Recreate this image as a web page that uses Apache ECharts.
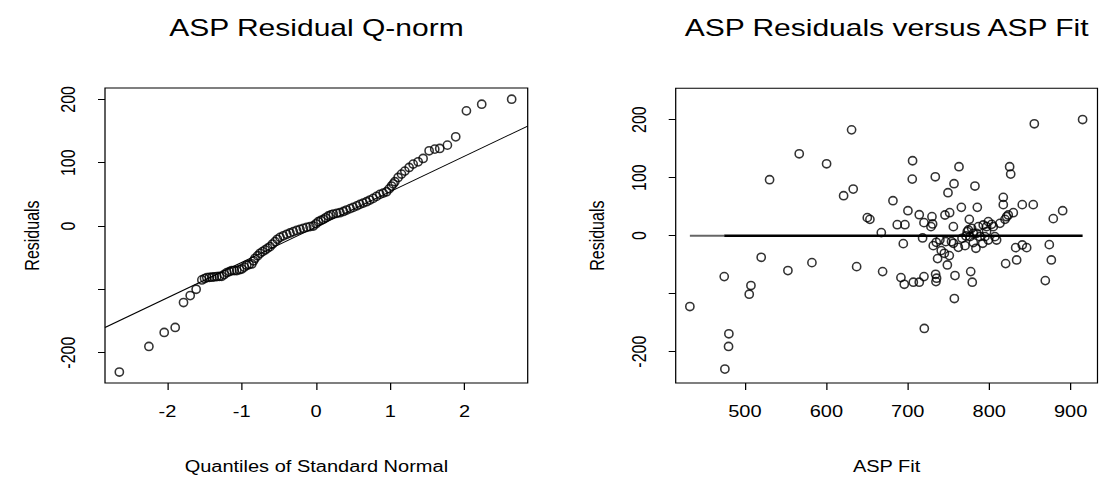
<!DOCTYPE html>
<html>
<head>
<meta charset="utf-8">
<script src="https://cdn.jsdelivr.net/npm/echarts@6.0.0/dist/echarts.min.js"></script>
<style>
  html, body { margin: 0; padding: 0; background: #fff; }
  #wrap { width: 1099px; height: 483px; overflow: hidden; background: #fff; }
  /* the original text is drawn wide, so the whole chart is stretched horizontally */
  #chart { height: 483px; transform-origin: 0 0; }
</style>
</head>
<body>
<div id="wrap"><div id="chart"></div></div>
<script>
// horizontal stretch of the reference picture
const S = 1.25;

// left panel: normal quantiles vs sorted residuals
const qqX = [
  -2.647, -2.249, -2.043, -1.895, -1.783, -1.693, -1.613, -1.536, -1.50, -1.469,
  -1.435, -1.402, -1.37, -1.335, -1.30, -1.268, -1.235, -1.200, -1.165, -1.133,
  -1.10, -1.066, -1.03, -0.999, -0.965, -0.932, -0.90, -0.864, -0.84, -0.820,
  -0.785, -0.753, -0.72, -0.685, -0.65, -0.618, -0.585, -0.551, -0.52, -0.484,
  -0.44, -0.394, -0.35, -0.305, -0.26, -0.215, -0.17, -0.125, -0.08, -0.036,
  0.0, 0.031, 0.065, 0.099, 0.13, 0.166, 0.20, 0.233, 0.28, 0.323,
  0.37, 0.412, 0.46, 0.502, 0.55, 0.591, 0.635, 0.681, 0.725, 0.770,
  0.815, 0.860, 0.905, 0.950, 0.985, 1.017, 1.04, 1.062, 1.106, 1.151,
  1.196, 1.254, 1.308, 1.375, 1.442, 1.523, 1.599, 1.666, 1.769, 1.881,
  2.025, 2.231, 2.634
];
const qqY = [
  -230.7, -190.3, -168.2, -160.3, -120.9, -109.9, -99.9, -85.2, -83.0, -81.5,
  -81.2, -80.9, -80.4, -79.9, -79.6, -79.4, -76.5, -73.6, -72, -70.4,
  -70.4, -70.4, -69, -67.8, -65, -62.0, -61, -59.9, -55, -51.0,
  -47, -43.1, -40.5, -37.8, -35, -32.6, -28.5, -24.7, -21, -17.9,
  -15.5, -13.1, -11, -8.9, -7, -5.3, -3.7, -2.1, -1, 0,
  3.5, 6.8, 8.7, 10.5, 13, 15.8, 17.5, 18.9, 20, 21.0,
  23, 25.2, 27.4, 29.4, 31.8, 34.2, 36.2, 38.4, 41, 43.6,
  46.8, 49.9, 52, 54.1, 58.6, 63.1, 66.5, 69.9, 76.7, 82.0,
  86.7, 92.5, 97.8, 101.4, 106.7, 118.8, 121.4, 122.5, 127.7, 140.9,
  181.9, 192.4, 200.3
];
// reference line end points
const qqLineX = [-2.84, 2.85];
const qqLineY = [-160.3, 157.8];

// right panel: fitted values vs residuals
const fitX = [
  432.4, 474.6, 480.3, 479.9, 475.4, 507.4, 505.3, 530.3, 520.0, 552.8,
  566.7, 582.3, 600.3, 631.0, 633.0, 621.2, 637.2, 650.3, 653.5, 667.5,
  669.1, 681.8, 687.1, 696.5, 694.5, 700.2, 691.6, 695.7, 706.8, 714.1,
  719.9, 705.9, 705.5, 714.1, 719.9, 718.2, 720.3, 729.7, 730.5, 728.5,
  733.8, 731.3, 735.0, 736.6, 734.2, 735.4, 734.6, 741.1, 744.9, 748.6,
  751.0, 745.7, 751.4, 756.8, 749.4, 756.0, 756.0, 758.0, 757.2, 762.9,
  765.8, 762.1, 770.3, 775.6, 774.4, 771.5, 776.4, 777.3, 779.2, 782.5,
  785.4, 783.7, 780.5, 786.7, 792.7, 796.8, 798.9, 792.0, 798.9, 803.0,
  809.1, 813.2, 817.3, 817.3, 825.1, 826.4, 819.4, 821.4, 823.4, 829.6,
  820.2, 832.5, 833.7, 840.6, 846.0, 840.6, 854.1, 855.4, 873.8, 876.3,
  868.9, 878.7, 890.2, 914.7,
  773.0, 778.4, 780.5, 788.6, 794.8, 796.8, 784.6, 805.0, 766.6, 739.4,
  753.7, 746.7, 807.0
];
const residY = [
  -122.2, -70.6, -169.2, -191.0, -230.0, -86.0, -101.0, 96.4, -37.3, -60.2,
  141.1, -46.5, 123.9, 182.4, 80.3, 68.8, -53.4, 31.0, 28.1, 5.2,
  -62.0, 60.2, 18.9, 18.9, -13.8, 43.0, -72.3, -83.8, -80.3, -80.3,
  -70.6, 129.1, 97.5, 36.1, 22.4, -4.0, -160.0, 32.7, 20.1, 15.5,
  101.5, -17.2, -11.5, -39.6, -66.6, -73.4, -79.2, -25.8, -30.4, -50.5,
  -34.4, 35.6, 39.6, 89.5, 74.0, 15.5, -13.2, -68.8, -108.4, 118.8,
  48.8, -20.1, -17.2, 28.1, 9.8, -0.6, -1.7, -62.0, -80.3, 85.5,
  48.8, -21.8, -12.0, 15.5, 18.4, 6.9, 24.1, -13.2, -7.5, 19.5,
  -7.5, 21.2, 66.0, 53.4, 118.8, 106.1, 28.1, 32.7, 35.6, 39.6,
  -48.2, -20.7, -41.9, -16.1, -20.7, 53.4, 53.4, 192.8, -15.5, -41.9,
  -77.5, 29.3, 43.0, 200.2,
  6.9, 12.6, 4.0, -1.7, -1.7, 15.5, 4.0, 15.5, -4.6, -7.5,
  -10.3, -10.3, -1.7
];
// zero line: light start segment, then the darker part
const zeroGreyX = [432.4, 474.6];
const zeroBlackX = [474.6, 914.7];

// ticks and labels
const qqTicksX = [-2, -1, 0, 1, 2];
const fitTicksX = [500, 600, 700, 800, 900];
const residTicks = [-200, -100, 0, 100, 200];
const residLabels = [-200, 0, 100, 200];

const FONT = '"Liberation Sans", Arial, Helvetica, sans-serif';
const W = 1099 / S;

const el = document.getElementById('chart');
el.style.width = W + 'px';
el.style.transform = 'scaleX(' + S + ')';
const chart = echarts.init(el, null, { renderer: 'svg', width: W, height: 483 });

// ellipse that turns round after the stretch
const ring = 'path://M0,50 A50,50 0 1 1 100,50 A50,50 0 1 1 0,50 Z';
const ringSize = [8.2 / S, 8.2];
const ringStyle = { color: 'rgba(0,0,0,0)', borderColor: '#000', borderWidth: 1.4 };

const txt = { color: '#000', fontFamily: FONT, fontSize: 16 };

function xAxisFor(idx, min, max, ticks, name) {
  return {
    gridIndex: idx, type: 'value', min: min, max: max,
    axisLine: { show: false, onZero: false }, splitLine: { show: false },
    axisTick: { show: true, length: 7, customValues: ticks, lineStyle: { color: '#000', width: 1 } },
    axisLabel: Object.assign({ customValues: ticks, margin: 29, verticalAlign: 'middle' }, txt),
    name: name, nameLocation: 'middle', nameGap: 84,
    nameTextStyle: Object.assign({ verticalAlign: 'middle' }, txt)
  };
}
function yAxisFor(idx, min, max, labelGap, nameGap) {
  return {
    gridIndex: idx, type: 'value', min: min, max: max,
    axisLine: { show: false, onZero: false }, splitLine: { show: false },
    axisTick: { show: true, length: 7 / S, customValues: residTicks, lineStyle: { color: '#000', width: 1 } },
    axisLabel: Object.assign({ customValues: residLabels, rotate: 90, margin: labelGap / S,
      align: 'center', verticalAlign: 'middle' }, txt),
    name: 'Residuals', nameLocation: 'middle', nameRotate: 90, nameGap: nameGap / S,
    nameTextStyle: Object.assign({ align: 'center', verticalAlign: 'middle' }, txt)
  };
}

const option = {
  animation: false,
  backgroundColor: '#fff',
  title: [
    { text: 'ASP Residual Q-norm', left: 316.4 / S, top: 28, textAlign: 'center', textVerticalAlign: 'middle',
      padding: 0, textStyle: { color: '#000', fontFamily: FONT, fontSize: 24, fontWeight: 'normal' } },
    { text: 'ASP Residuals versus ASP Fit', left: 886.6 / S, top: 28, textAlign: 'center', textVerticalAlign: 'middle',
      padding: 0, textStyle: { color: '#000', fontFamily: FONT, fontSize: 24, fontWeight: 'normal' } }
  ],
  grid: [
    { left: 105 / S, top: 88, width: (527.7 - 105) / S, height: 295, show: true,
      borderColor: '#000', borderWidth: 1, backgroundColor: 'transparent' },
    { left: 675.7 / S, top: 88.3, width: (1097.5 - 675.7) / S, height: 294.7, show: true,
      borderColor: '#000', borderWidth: 1, backgroundColor: 'transparent' }
  ],
  xAxis: [
    xAxisFor(0, -2.84, 2.85, qqTicksX, 'Quantiles of Standard Normal'),
    xAxisFor(1, 415, 933, fitTicksX, 'ASP Fit')
  ],
  yAxis: [
    yAxisFor(0, -248, 218, 37, 73),
    yAxisFor(1, -254, 254, 36, 78.7)
  ],
  series: [
    {
      type: 'scatter', xAxisIndex: 0, yAxisIndex: 0, silent: true,
      symbol: ring, symbolSize: ringSize, itemStyle: ringStyle,
      data: qqX.map((x, i) => [x, qqY[i]])
    },
    {
      type: 'line', xAxisIndex: 0, yAxisIndex: 0, silent: true, showSymbol: false,
      lineStyle: { color: '#000', width: 1 },
      data: qqLineX.map((x, i) => [x, qqLineY[i]])
    },
    {
      type: 'line', xAxisIndex: 1, yAxisIndex: 1, silent: true, showSymbol: false,
      lineStyle: { color: '#666', width: 2 },
      data: zeroGreyX.map(x => [x, 0])
    },
    {
      type: 'line', xAxisIndex: 1, yAxisIndex: 1, silent: true, showSymbol: false,
      lineStyle: { color: '#000', width: 2.5 },
      data: zeroBlackX.map(x => [x, 0])
    },
    {
      type: 'scatter', xAxisIndex: 1, yAxisIndex: 1, silent: true,
      symbol: ring, symbolSize: ringSize, itemStyle: ringStyle,
      data: fitX.map((x, i) => [x, residY[i]])
    }
  ]
};
chart.setOption(option);
</script>
</body>
</html>
